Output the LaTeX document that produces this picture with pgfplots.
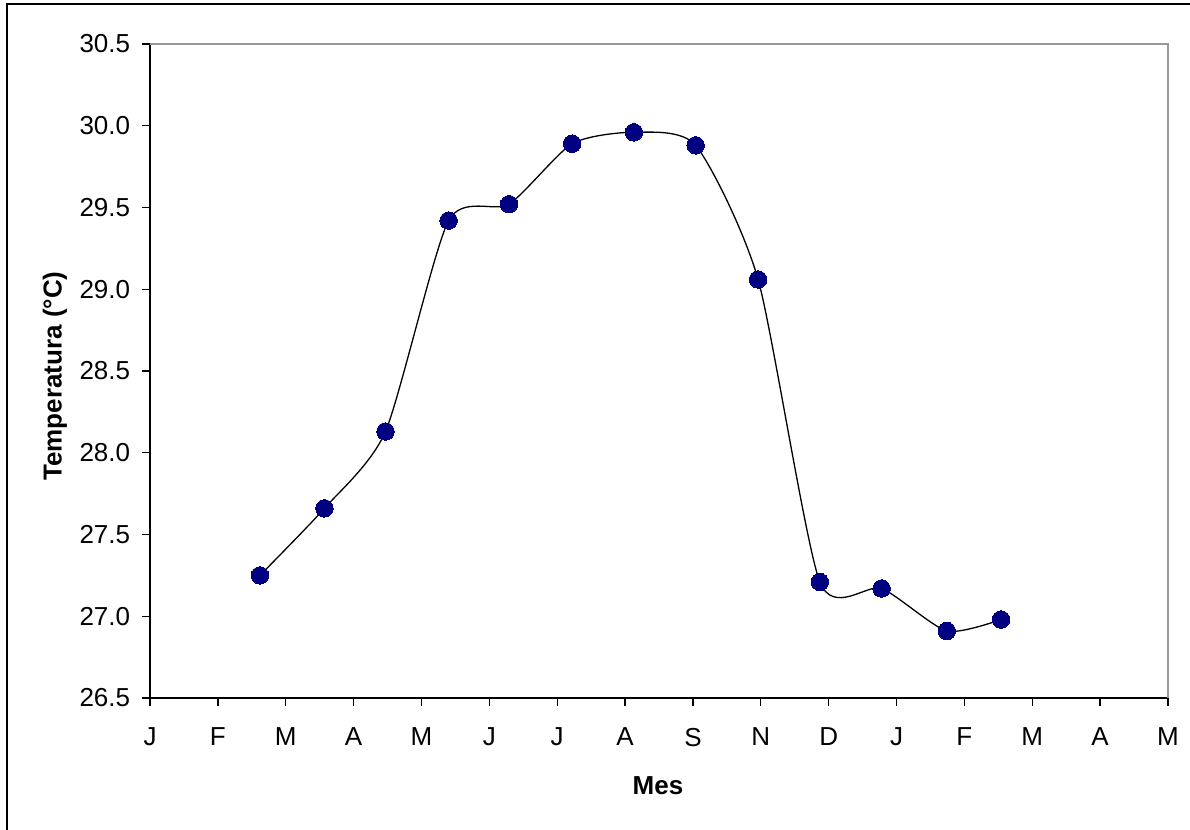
\documentclass[border=0pt]{standalone}
\usepackage{pgfplots}
\pgfplotsset{compat=1.18}
\usepackage{fontspec}
\setmainfont{Liberation Sans}
\definecolor{navy}{HTML}{000080}
\begin{document}
\fontsize{26}{30}\selectfont
\begin{tikzpicture}[x=1pt,y=1pt]
\useasboundingbox (0,0) rectangle (1190,829);
\draw[line width=2pt] (7,-20) -- (7,825) -- (1210,825);
\begin{axis}[at={(150pt,131pt)}, anchor=south west, scale only axis,
  width=1018pt, height=654pt,
  xmin=0, xmax=15, ymin=26.5, ymax=30.5,
  xtick={0,1,2,3,4,5,6,7,8,9,10,11,12,13,14,15},
  xticklabels={J,F,M,A,M,J,J,A,S,N,D,J,F,M,A,M},
  ytick={26.5,27.0,27.5,28.0,28.5,29.0,29.5,30.0,30.5},
  axis x line=bottom, axis y line=left,
  axis line style={-, line width=1.3pt, black},
  tick align=outside, major tick length=8pt,
  tick style={black, line width=1.3pt},
  tick label style={font=\fontsize{26}{30}\selectfont},
  yticklabel style={xshift=-3pt, /pgf/number format/.cd, fixed, fixed zerofill, precision=1, assume math mode=true},
  xticklabel style={yshift=-13pt},
  clip=false,
]
\draw[gray!80, line width=1.5pt] (rel axis cs:0,1) -- (rel axis cs:1,1) -- (rel axis cs:1,0);
\addplot[black, line width=1.3pt, smooth, tension=0.4, mark=*, mark size=8.75pt,
  mark options={fill=navy, draw=navy, line width=0pt}] coordinates {
  (1.62,27.25) (2.57,27.66) (3.47,28.13) (4.40,29.42) (5.29,29.52)
  (6.22,29.89) (7.13,29.96) (8.04,29.88) (8.96,29.06) (9.87,27.21)
  (10.78,27.17) (11.74,26.91) (12.54,26.98)
};
\end{axis}
\node[font=\bfseries\fontsize{26}{30}\selectfont] at (658,43) {Mes};
\node[rotate=90, font=\bfseries\fontsize{26}{30}\selectfont] at (55,453) {Temperatura (°C)};
\end{tikzpicture}
\end{document}
